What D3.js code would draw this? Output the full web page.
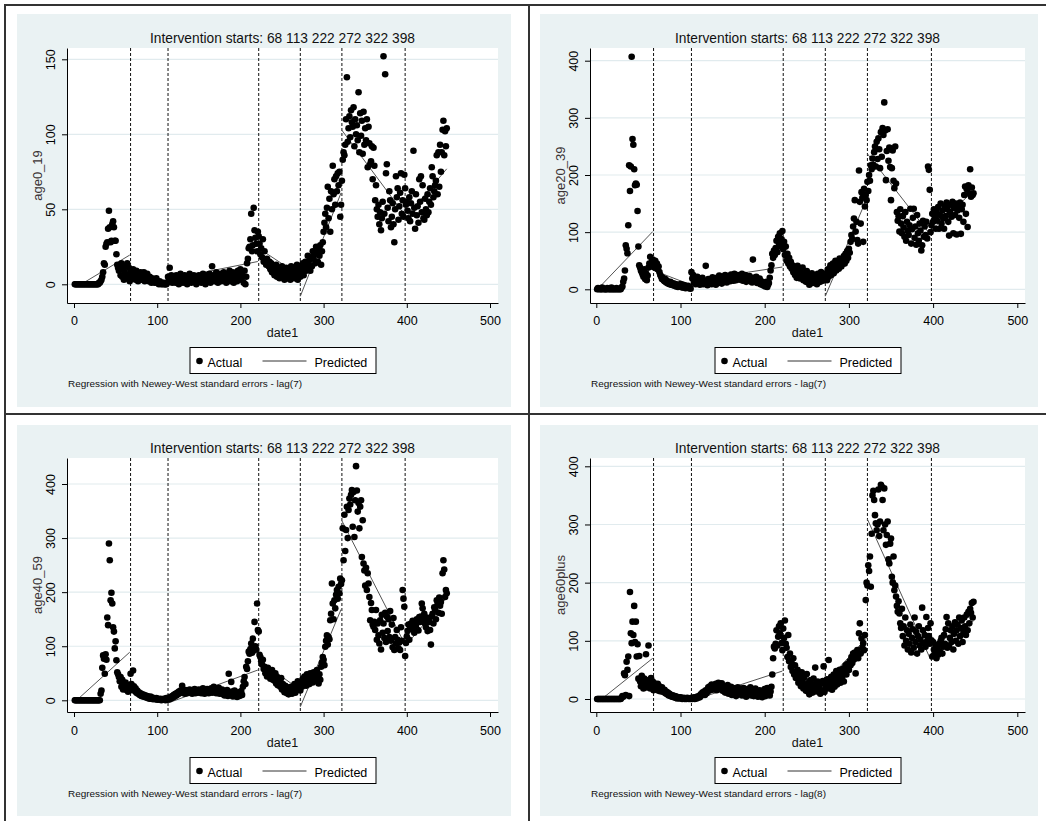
<!DOCTYPE html>
<html>
<head>
  <meta charset="utf-8">
  <title>Intervention starts - age groups</title>
  <script src="https://cdn.jsdelivr.net/npm/d3@7"></script>
  <style>
    body { margin: 0; background: #fff; }
    svg { display: block; font-family: 'Liberation Sans', Arial, sans-serif; }
  </style>
</head>
<body>
<svg id="chart" width="1046" height="821"></svg>
<script>
// ---- data ----
const date1 = d3.range(1, 449);            // day counter 1..448
const interventions = [68, 113, 222, 272, 322, 398];
const segEnd = [67, 112, 221, 271, 321, 397, 448];
const xTicks = [0, 100, 200, 300, 400, 500];

const age0_19 = [
  0,0,0,0,0,0,0,0,0,0, 0,0,0,0,0,0,0,0,0,0, 0,0,0,0,0,0,0,0,0,1,
  1,2,3,5,8,14,13,25,27,28, 37,49,38,28,29,40,42,38,29,29,
  20,13,11,9,12,6,14,5,10,3, 8,12,4,14,6,11,2,9,7,5,
  10,4,8,3,9,6,2,7,5,8, 3,6,4,8,2,5,3,7,4,2,
  5,3,1,4,2,3,1,2,4,1, 1,0,2,1,0,1,0,1,0,0,
  0,1,5,3,11,2,6,1,4,3, 5,1,6,2,4,0,3,7,2,5,
  1,4,6,2,3,0,5,2,7,3, 1,4,2,6,3,5,0,2,4,6,
  2,3,1,5,7,2,4,0,6,3, 5,2,7,1,4,12,3,6,2,5,
  8,3,1,6,4,7,2,5,3,8, 4,6,1,7,3,5,9,2,6,4,
  8,1,5,3,7,2,9,4,6,10, 3,8,5,1,9,0,5,14,17,24,
  25,30,47,22,26,51,36,31,27,22, 35,32,27,20,24,18,30,15,22,16,
  13,17,14,12,15,10,14,8,12,9, 6,10,13,5,8,11,4,9,7,12,
  5,9,3,8,11,6,4,10,7,3, 12,8,5,11,4,9,6,13,3,10,
  7,5,12,8,14,6,10,15,9,11, 19,13,16,9,18,12,22,17,20,14,
  25,21,15,24,19,26,13,22,28,35, 41,47,38,51,65,44,57,35,62,50,
  79,60,70,53,72,62,74,66,75,45, 53,69,83,88,86,93,110,138,95,104,
  112,98,116,108,105,118,92,110,100,106, 96,128,88,114,99,109,87,115,93,104,
  96,110,78,105,94,80,82,92,70,91, 79,56,66,50,45,53,40,48,36,44,
  55,152,47,140,74,80,51,42,62,56, 38,45,54,40,28,50,72,58,64,43,
  52,61,74,47,56,45,73,64,53,55, 49,44,58,42,54,62,47,89,51,37,
  60,46,52,41,70,55,72,48,66,44, 43,57,50,46,60,48,55,64,53,78,
  72,58,62,66,69,86,60,88,65,93, 75,88,103,109,86,102,92,104
];

const age20_39 = [
  0,2,0,1,0,0,3,0,1,0, 0,0,2,0,1,0,0,3,0,0, 1,0,0,2,0,0,1,0,0,3,
  5,13,19,33,77,71,63,112,217,172, 215,407,263,253,210,182,185,183,137,75,
  42,38,33,30,26,22,35,18,28,16, 24,38,45,57,40,48,52,45,38,50,
  42,45,35,40,30,25,22,18,20,16, 14,18,12,15,10,12,9,13,8,11,
  7,10,6,9,5,8,4,7,5,9, 6,3,8,4,7,2,5,3,6,2,
  4,1,30,19,25,12,18,9,15,22, 10,14,8,17,12,20,9,15,11,41,
  13,7,18,10,16,12,9,21,14,11, 17,8,20,13,11,24,15,18,10,22,
  16,13,25,19,12,23,17,21,14,26, 18,24,15,27,20,16,22,25,19,17,
  24,20,27,15,22,18,25,13,21,16, 19,23,14,18,12,52,20,15,17,22,
  11,16,13,19,9,14,8,12,6,10, 5,13,4,8,11,20,33,42,62,55,
  68,60,72,85,65,92,80,98,75,88, 102,70,83,60,75,50,62,45,55,40,
  48,36,42,30,38,25,33,20,41,28, 35,19,30,24,38,16,27,22,13,32,
  18,25,8,21,15,28,11,19,24,14, 21,9,27,17,23,13,30,20,15,26,
  19,24,28,16,35,22,30,42,25,34, 45,28,38,50,33,42,48,36,54,44,
  40,52,48,58,45,62,50,67,55,71, 64,83,95,88,110,124,156,101,118,86,
  80,208,153,115,170,160,83,176,145,165, 156,188,172,200,190,217,210,229,218,240,
  250,215,258,228,264,245,212,275,232,282, 270,327,278,191,242,280,225,248,214,156,
  212,243,190,177,250,185,135,120,128,101, 140,115,98,128,108,92,135,85,118,102,
  95,112,141,80,105,125,141,90,110,78, 130,98,85,115,103,68,77,120,92,110,
  95,118,89,215,209,174,100,112,132,118, 140,125,106,135,120,144,106,130,150,115,
  138,124,106,145,128,152,140,118,94,135, 148,127,153,98,142,130,150,96,138,145,
  125,152,97,140,148,118,165,180,132,175, 109,182,168,210,162,178,165,168
];

const age40_59 = [
  0,0,0,0,0,0,0,0,0,0, 0,0,0,0,0,0,0,0,0,0, 0,0,0,0,0,0,0,0,0,0,
  0,12,18,60,83,77,49,85,75,153, 139,290,259,185,199,179,135,127,96,109,
  74,52,48,43,35,43,25,38,20,30, 22,33,19,28,16,24,18,49,30,21,
  55,26,17,22,14,18,12,15,10,13, 8,11,7,10,6,9,5,8,4,6,
  3,7,3,5,2,4,3,2,4,1, 3,2,1,3,0,2,1,3,2,0,
  4,1,3,5,2,6,4,8,5,10, 7,12,9,14,11,16,13,18,15,27,
  14,17,12,19,15,13,18,16,20,14, 17,12,19,15,21,13,18,16,14,20,
  15,19,13,17,22,16,12,18,15,21, 17,13,20,16,22,14,18,25,15,19,
  13,21,16,23,12,18,14,20,11,17, 9,15,12,19,8,49,14,10,34,16,
  7,12,18,9,14,6,11,15,8,13, 17,10,25,35,43,30,62,58,72,90,
  86,95,105,88,114,92,145,100,94,179, 130,127,84,80,72,66,75,58,62,50,
  55,44,60,48,52,40,45,56,38,42, 36,50,31,43,28,38,33,25,41,20,
  30,22,15,27,18,13,24,11,20,16, 25,12,22,17,30,14,26,20,35,23,
  28,18,33,25,40,30,44,36,27,48, 35,42,30,50,38,45,33,52,40,47,
  36,56,43,31,48,38,62,70,80,75, 65,99,110,120,103,117,113,148,160,216,
  179,150,185,170,195,204,188,210,198,225, 215,222,318,259,343,276,315,358,300,352,
  373,362,380,389,321,385,302,370,433,388, 349,365,318,358,370,265,333,253,240,212,
  245,204,235,216,191,148,180,167,140,136, 145,130,167,112,142,120,105,148,94,158,
  125,142,115,162,108,155,128,150,117,165, 110,140,98,152,93,117,105,130,112,96,
  107,93,135,110,204,188,173,82,106,118, 128,140,112,135,142,132,147,136,125,140,
  138,150,130,129,154,145,155,179,170,148, 160,142,135,153,128,150,145,130,103,155,
  160,142,172,168,150,185,178,162,190,175, 182,160,235,259,242,191,204,198
];

const age60plus = [
  0,0,0,0,0,0,0,0,0,0, 0,0,0,0,0,0,0,0,0,0, 0,0,0,0,0,0,0,0,0,2,
  5,4,44,41,7,64,50,73,5,184, 113,96,133,110,160,98,133,73,94,35,
  74,30,22,40,28,18,35,25,77,20, 32,92,26,18,36,22,30,15,27,20,
  24,16,26,14,22,18,13,20,15,12, 16,10,13,8,11,6,9,5,7,4,
  6,3,5,2,4,1,3,2,1,3, 2,0,1,2,0,1,0,2,1,0,
  1,0,2,0,1,3,0,2,1,4, 2,5,3,8,6,11,9,13,7,15,
  10,16,20,14,22,18,25,16,21,24, 19,26,15,23,28,20,17,25,27,14,
  22,18,11,20,16,24,9,18,13,21, 7,15,19,10,17,5,14,20,8,16,
  12,18,6,13,19,9,15,4,11,17, 8,14,20,6,12,16,5,10,18,7,
  13,4,9,15,6,11,3,14,8,17, 5,12,19,9,15,6,13,21,42,70,
  90,87,95,118,92,107,125,113,130,96, 84,121,105,135,95,88,72,110,65,78,
  55,62,48,70,42,58,36,45,50,28, 40,33,22,46,30,18,37,25,14,43,
  20,28,8,32,16,24,11,35,19,54, 26,13,30,17,22,9,27,15,31,56,
  12,25,20,34,18,67,28,23,38,16, 30,42,21,36,48,25,40,33,50,28,
  45,37,52,30,48,58,42,60,55,50, 65,58,72,62,78,68,80,44,75,84,
  70,113,130,78,104,88,96,84,110,170, 200,195,230,220,245,193,284,350,358,342,
  316,302,290,300,360,280,305,368,365,342, 290,362,300,265,282,305,240,233,267,276,
  210,200,245,187,195,176,160,150,168,147, 130,122,155,108,125,92,140,100,118,85,
  112,95,128,80,105,120,88,140,98,115, 78,108,125,92,102,85,157,118,96,110,
  90,141,100,122,108,95,130,101,73,98, 85,80,92,70,88,76,95,82,100,105,
  78,90,110,95,120,141,88,130,92,105, 118,98,125,85,112,132,100,118,128,95,
  140,108,122,135,98,115,140,125,110,145, 118,150,130,155,148,165,140,167
];

// fitted (segmented) lines: value at first and last day of each segment
const predFirstDay = [10, 2, 6, 9];
const pred0_19Start   = [0.5, 6, 3.3, 24, -8, 102.7, 44];
const pred0_19End     = [19.5, 1, 15.2, 6, 61, 46.7, 77];
const pred20_39Start  = [1, 33, 15, 50, -12, 237, 104];
const pred20_39End    = [101, 8, 39, 18, 158, 95, 172];
const pred40_59Start  = [4, 22, -5, 75, -12, 332, 100];
const pred40_59End    = [89, 1, 56, 20, 168, 106, 190];
const pred60plusStart = [3, 22, -3, 75, 28, 309, 90];
const pred60plusEnd   = [70, 1, 48, 15, 105, 68, 134];

const panels = [
  { name: "age0_19", values: age0_19, pStart: pred0_19Start, pEnd: pred0_19End, lag: 7, yTicks: [0, 50, 100, 150],
    L: { left: 67, right: 498, top: 48, bottom: 303, x0: 74, x500: 490, y0: 284.3, yTop: 59.3,
         bg: [17, 14, 511, 407], titleY: 42.5, tickY: 325, xTitleY: 336.7, legTop: 347, noteY: 386.5, noteW: 234 } },
  { name: "age20_39", values: age20_39, pStart: pred20_39Start, pEnd: pred20_39End, lag: 7, yTicks: [0, 100, 200, 300, 400],
    L: { left: 590, right: 1025, top: 48, bottom: 303, x0: 596.3, x500: 1017.3, y0: 289.3, yTop: 60.7,
         bg: [540, 14, 1038, 407], titleY: 42.5, tickY: 325, xTitleY: 336.7, legTop: 347, noteY: 386.5, noteW: 235 } },
  { name: "age40_59", values: age40_59, pStart: pred40_59Start, pEnd: pred40_59End, lag: 7, yTicks: [0, 100, 200, 300, 400],
    L: { left: 67, right: 498, top: 458, bottom: 712, x0: 74, x500: 490, y0: 700.3, yTop: 484,
         bg: [17, 425, 511, 816], titleY: 452.5, tickY: 735, xTitleY: 746.5, legTop: 757, noteY: 797, noteW: 234 } },
  { name: "age60plus", values: age60plus, pStart: pred60plusStart, pEnd: pred60plusEnd, lag: 8, yTicks: [0, 100, 200, 300, 400],
    L: { left: 590, right: 1025, top: 458, bottom: 712, x0: 596.3, x500: 1017.3, y0: 699, yTop: 466.3,
         bg: [540, 425, 1038, 816], titleY: 452.5, tickY: 735, xTitleY: 746.5, legTop: 757, noteY: 797, noteW: 235 } }
];

const svg = d3.select("#chart");

panels.forEach((p, i) => drawPanel(p, i));

// frame lines of the combined graph
const frame = svg.append("g").attr("stroke", "#333").attr("stroke-width", 2);
frame.append("line").attr("x1", 5).attr("y1", 4).attr("x2", 5).attr("y2", 821);
frame.append("line").attr("x1", 4).attr("y1", 5).attr("x2", 1046).attr("y2", 5);
frame.append("line").attr("x1", 529).attr("y1", 4).attr("x2", 529).attr("y2", 821);
frame.append("line").attr("x1", 4).attr("y1", 414).attr("x2", 1046).attr("y2", 414);

function drawPanel(p, i) {
  const L = p.L;
  const g = svg.append("g");

  g.append("rect").attr("x", L.bg[0]).attr("y", L.bg[1])
    .attr("width", L.bg[2] - L.bg[0]).attr("height", L.bg[3] - L.bg[1]).attr("fill", "#eaf2f3");
  g.append("rect").attr("x", L.left).attr("y", L.top)
    .attr("width", L.right - L.left).attr("height", L.bottom - L.top).attr("fill", "#fff");

  // scales calibrated on tick positions, then stretched over the plot region
  const xCal = d3.scaleLinear().domain([0, 500]).range([L.x0, L.x500]);
  const x = d3.scaleLinear().domain([xCal.invert(L.left), xCal.invert(L.right)]).range([L.left, L.right]);
  const yMax = p.yTicks[p.yTicks.length - 1];
  const yCal = d3.scaleLinear().domain([0, yMax]).range([L.y0, L.yTop]);
  const y = d3.scaleLinear().domain([yCal.invert(L.bottom), yCal.invert(L.top)]).range([L.bottom, L.top]);

  const clipId = "clip" + i;
  g.append("clipPath").attr("id", clipId).append("rect")
    .attr("x", L.left).attr("y", L.top).attr("width", L.right - L.left).attr("height", L.bottom - L.top);

  // gridlines
  g.append("g").selectAll("line").data(p.yTicks).join("line")
    .attr("x1", L.left).attr("x2", L.right)
    .attr("y1", d => y(d)).attr("y2", d => y(d))
    .attr("stroke", "#e1ebee").attr("stroke-width", 1.2);

  // intervention lines
  g.append("g").selectAll("line").data(interventions).join("line")
    .attr("x1", d => x(d)).attr("x2", d => x(d))
    .attr("y1", L.top).attr("y2", L.bottom)
    .attr("stroke", "#111").attr("stroke-width", 1).attr("stroke-dasharray", "3,2");

  // predicted segments (under the markers)
  const segs = segEnd.map((e, k) => [
    { d: k === 0 ? predFirstDay[i] : interventions[k - 1], v: p.pStart[k] },
    { d: e, v: p.pEnd[k] }
  ]);
  const line = d3.line().x(d => x(d.d)).y(d => y(d.v));
  g.append("g").attr("clip-path", `url(#${clipId})`)
    .selectAll("path").data(segs).join("path")
    .attr("d", line).attr("fill", "none").attr("stroke", "#555").attr("stroke-width", 1);

  // actual values
  g.append("g").attr("clip-path", `url(#${clipId})`)
    .selectAll("circle").data(p.values).join("circle")
    .attr("cx", (d, k) => x(date1[k]))
    .attr("cy", d => y(d))
    .attr("r", 3.3)
    .attr("fill", "#000");

  // axes
  const xAxis = d3.axisBottom(x).tickValues(xTicks).tickSize(5).tickSizeOuter(0).tickFormat(d3.format("d"));
  const gx = g.append("g").attr("transform", `translate(0,${L.bottom})`).call(xAxis);
  gx.attr("font-family", null).attr("font-size", 12.5);
  gx.select(".domain").attr("stroke", "#000");
  gx.selectAll(".tick line").attr("stroke", "#000");
  gx.selectAll(".tick text").attr("y", L.tickY - L.bottom).attr("dy", 0).attr("fill", "#000");

  const yAxis = d3.axisLeft(y).tickValues(p.yTicks).tickSize(5).tickSizeOuter(0);
  const gy = g.append("g").attr("transform", `translate(${L.left},0)`).call(yAxis);
  gy.attr("font-family", null).attr("font-size", 12.5);
  gy.select(".domain").attr("stroke", "#000");
  gy.selectAll(".tick line").attr("stroke", "#000");
  gy.selectAll(".tick text")
    .attr("x", 0).attr("dy", 0)
    .attr("text-anchor", "middle")
    .attr("transform", "translate(-12.5,0) rotate(-90)")
    .attr("fill", "#000");

  const cx = (L.left + L.right) / 2;

  // titles
  g.append("text").attr("x", cx).attr("y", L.titleY).attr("text-anchor", "middle")
    .attr("font-size", 13.75).attr("fill", "#111")
    .text("Intervention starts: " + interventions.join(" "));
  g.append("text").attr("x", cx).attr("y", L.xTitleY).attr("text-anchor", "middle")
    .attr("font-size", 12.5).attr("fill", "#111").text("date1");
  const ym = (L.top + L.bottom) / 2;
  g.append("text").attr("transform", `translate(${L.left - 25.5},${ym}) rotate(-90)`)
    .attr("text-anchor", "middle").attr("font-size", 13).attr("fill", "#3a3333").text(p.name);

  // legend
  const lx = cx - 93, ly = L.legTop;
  const leg = g.append("g");
  leg.append("rect").attr("x", lx + 0.5).attr("y", ly + 0.5).attr("width", 186).attr("height", 26)
    .attr("fill", "#fff").attr("stroke", "#000").attr("stroke-width", 1);
  leg.append("circle").attr("cx", lx + 10).attr("cy", ly + 14).attr("r", 3.3).attr("fill", "#000");
  leg.append("text").attr("x", lx + 18).attr("y", ly + 19.5).attr("font-size", 12.5).attr("fill", "#000").text("Actual");
  leg.append("line").attr("x1", lx + 73).attr("x2", lx + 117).attr("y1", ly + 14).attr("y2", ly + 14)
    .attr("stroke", "#333").attr("stroke-width", 1);
  leg.append("text").attr("x", lx + 125).attr("y", ly + 19.5).attr("font-size", 12.5).attr("fill", "#000").text("Predicted");

  // note
  g.append("text").attr("x", L.left + 1).attr("y", L.noteY).attr("font-size", 9.5).attr("fill", "#111")
    .attr("textLength", L.noteW).attr("lengthAdjust", "spacingAndGlyphs")
    .text(`Regression with Newey-West standard errors - lag(${p.lag})`);
}
</script>
</body>
</html>
